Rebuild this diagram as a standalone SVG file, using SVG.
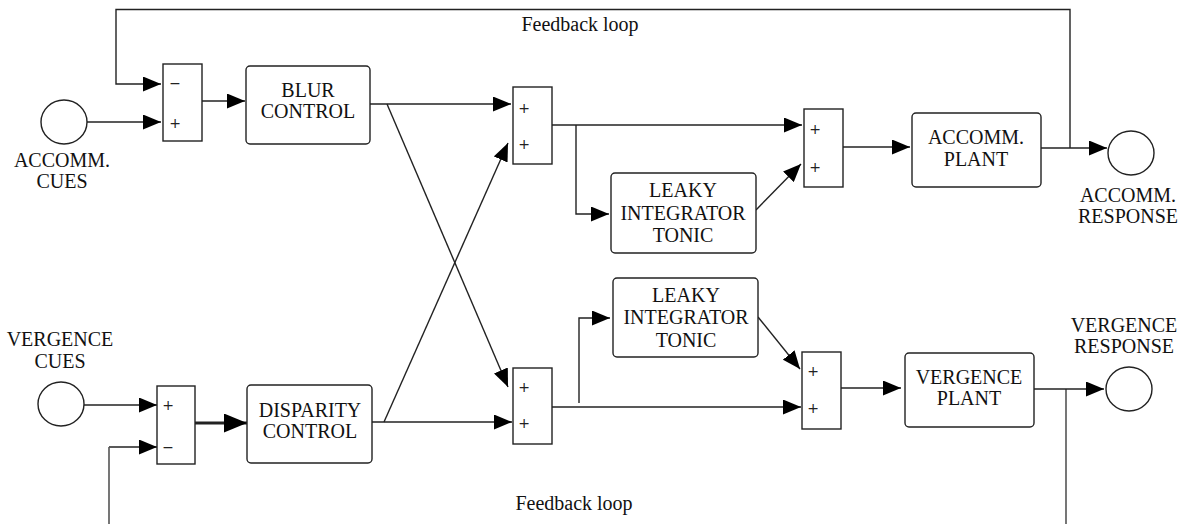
<svg xmlns="http://www.w3.org/2000/svg" width="1182" height="524" viewBox="0 0 1182 524">
<style>
.box{fill:#fff;stroke:#222;stroke-width:1.4}
.sum{fill:#fff;stroke:#222;stroke-width:1.4}
.circ{fill:#fff;stroke:#222;stroke-width:1.4}
.t{font-family:"Liberation Serif","Times New Roman",serif;font-size:20px;fill:#111;text-anchor:middle}
.s{font-family:"DejaVu Sans","Liberation Sans",sans-serif;font-size:14px;fill:#222;text-anchor:middle}
.c{fill:none;stroke:#222;stroke-width:1.4}
.a{marker-end:url(#ah)}
.thick{stroke-width:3;marker-end:url(#ahb)}
.fb{stroke:#555;stroke-width:1.6}
</style>
<defs>
<marker id="ah" markerUnits="userSpaceOnUse" markerWidth="18" markerHeight="15" refX="18" refY="7.5" orient="auto" viewBox="0 0 18 15">
<path d="M0,0 L18,7.5 L0,15 z" fill="#000"/>
</marker>
<marker id="ahb" markerUnits="userSpaceOnUse" markerWidth="23" markerHeight="19" refX="23" refY="9.5" orient="auto" viewBox="0 0 23 19">
<path d="M0,0 L23,9.5 L0,19 z" fill="#000"/>
</marker>
</defs>
<rect width="1182" height="524" fill="#fff"/>

<g id="connectors">
<path class="c a" d="M1070,148 V9.5 H116 V84 H161"/>
<path class="c a" d="M87,122 H161"/>
<path class="c a" d="M202,101 H245"/>
<path class="c a" d="M370,104 H511"/>
<path class="c a" d="M387,104 L508,387"/>
<path class="c a" d="M549,125 H802"/>
<path class="c a" d="M576,125 V214 H609"/>
<path class="c a" d="M756,210 L801,164"/>
<path class="c a" d="M843,147 H910"/>
<path class="c a" d="M1041,148 H1107"/>
<path class="c a" d="M84,405 H157"/>
<path class="c a" d="M109,447 H157"/>
<path class="c fb" d="M109,447 V524.8 H1066 V389"/>
<path class="c thick" d="M195,423 H247"/>
<path class="c a" d="M372,422 H512"/>
<path class="c a" d="M384,422 L508,143"/>
<path class="c a" d="M552,407 H801"/>
<path class="c a" d="M579,403 V318 H610"/>
<path class="c a" d="M758,317 L800,369"/>
<path class="c a" d="M841,388 H901"/>
<path class="c a" d="M1034,389 H1104"/>
</g>

<g id="feedback-labels">
<text class="t" x="580" y="31">Feedback loop</text>
<text class="t" x="574" y="510">Feedback loop</text>
</g>

<g id="accomm-cues">
<ellipse class="circ" cx="64" cy="122" rx="23" ry="22"/>
<text class="t" x="62" y="167">ACCOMM.</text>
<text class="t" x="62" y="188">CUES</text>
</g>

<g id="sum-blur">
<rect class="sum" x="163" y="64" width="39" height="77"/>
<text class="s" x="175" y="88">−</text>
<text class="s" x="175" y="128">+</text>
</g>

<g id="blur-control">
<rect class="box" x="246" y="66" width="124" height="78" rx="4"/>
<text class="t" x="308" y="97">BLUR</text>
<text class="t" x="308" y="118">CONTROL</text>
</g>

<g id="sum-accomm-a">
<rect class="sum" x="513" y="87" width="39" height="77"/>
<text class="s" x="524" y="113">+</text>
<text class="s" x="524" y="149">+</text>
</g>

<g id="leaky-accomm">
<rect class="box" x="611" y="173" width="145" height="80" rx="4"/>
<text class="t" x="683" y="197">LEAKY</text>
<text class="t" x="683" y="220">INTEGRATOR</text>
<text class="t" x="683" y="242">TONIC</text>
</g>

<g id="sum-accomm-b">
<rect class="sum" x="804" y="109" width="39" height="78"/>
<text class="s" x="815" y="134">+</text>
<text class="s" x="815" y="172">+</text>
</g>

<g id="accomm-plant">
<rect class="box" x="912" y="113" width="129" height="74" rx="4"/>
<text class="t" x="976" y="144">ACCOMM.</text>
<text class="t" x="976" y="166">PLANT</text>
</g>

<g id="accomm-response">
<ellipse class="circ" cx="1131" cy="153" rx="23" ry="22"/>
<text class="t" x="1128" y="202">ACCOMM.</text>
<text class="t" x="1128" y="223">RESPONSE</text>
</g>

<g id="vergence-cues">
<ellipse class="circ" cx="61" cy="404" rx="23" ry="22"/>
<text class="t" x="60" y="346">VERGENCE</text>
<text class="t" x="60" y="368">CUES</text>
</g>

<g id="sum-disparity">
<rect class="sum" x="157" y="386" width="38" height="78"/>
<text class="s" x="168" y="410">+</text>
<text class="s" x="168" y="452">−</text>
</g>

<g id="disparity-control">
<rect class="box" x="247" y="385" width="125" height="78" rx="4"/>
<text class="t" x="310" y="417">DISPARITY</text>
<text class="t" x="310" y="438">CONTROL</text>
</g>

<g id="sum-verg-a">
<rect class="sum" x="513" y="368" width="39" height="76"/>
<text class="s" x="524" y="392">+</text>
<text class="s" x="524" y="428">+</text>
</g>

<g id="leaky-verg">
<rect class="box" x="613" y="278" width="145" height="79" rx="4"/>
<text class="t" x="686" y="302">LEAKY</text>
<text class="t" x="686" y="324">INTEGRATOR</text>
<text class="t" x="686" y="347">TONIC</text>
</g>

<g id="sum-verg-b">
<rect class="sum" x="802" y="352" width="39" height="77"/>
<text class="s" x="813" y="376">+</text>
<text class="s" x="813" y="413">+</text>
</g>

<g id="vergence-plant">
<rect class="box" x="905" y="353" width="129" height="74" rx="4"/>
<text class="t" x="969" y="384">VERGENCE</text>
<text class="t" x="969" y="405">PLANT</text>
</g>

<g id="vergence-response">
<ellipse class="circ" cx="1129" cy="389" rx="23" ry="22"/>
<text class="t" x="1124" y="332">VERGENCE</text>
<text class="t" x="1124" y="353">RESPONSE</text>
</g>
</svg>
